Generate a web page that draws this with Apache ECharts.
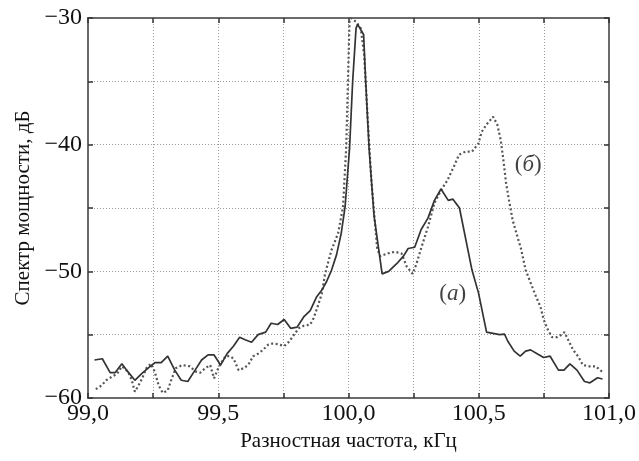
<!DOCTYPE html>
<html>
<head>
<meta charset="utf-8">
<script src="https://cdn.jsdelivr.net/npm/echarts@6/dist/echarts.min.js"></script>
<style>
html,body{margin:0;padding:0;background:#fff;}
#c{width:639px;height:461px;}
</style>
</head>
<body>
<div id="c"></div>
<script>
// Curve (a): solid line [frequency kHz, power dB]
const curveA = [
[99.025,-57.0],[99.055,-56.9],[99.085,-58.0],[99.104,-58.0],[99.13,-57.3],[99.152,-57.9],
[99.18,-58.6],[99.205,-58.1],[99.233,-57.6],[99.258,-57.2],[99.281,-57.2],[99.306,-56.7],
[99.333,-57.8],[99.358,-58.6],[99.383,-58.7],[99.411,-57.8],[99.436,-57.0],[99.461,-56.6],
[99.484,-56.6],[99.509,-57.4],[99.534,-56.5],[99.559,-55.9],[99.582,-55.2],[99.603,-55.4],
[99.628,-55.6],[99.653,-55.0],[99.682,-54.8],[99.703,-54.1],[99.728,-54.2],[99.753,-53.8],
[99.778,-54.5],[99.803,-54.4],[99.828,-53.6],[99.853,-53.1],[99.878,-52.0],[99.897,-51.5],
[99.916,-50.8],[99.935,-49.9],[99.954,-48.7],[99.972,-47.0],[99.987,-44.9],[100.004,-40.3],
[100.016,-35.0],[100.029,-30.8],[100.035,-30.5],[100.058,-31.3],[100.066,-35.0],[100.079,-40.3],
[100.098,-45.6],[100.129,-50.2],[100.154,-50.0],[100.185,-49.4],[100.211,-48.8],[100.229,-48.2],
[100.254,-48.1],[100.279,-46.7],[100.305,-45.8],[100.33,-44.4],[100.355,-43.5],[100.383,-44.4],
[100.401,-44.3],[100.426,-45.0],[100.474,-49.9],[100.499,-51.7],[100.53,-54.8],[100.555,-54.9],
[100.58,-55.0],[100.599,-54.95],[100.611,-55.5],[100.636,-56.3],[100.659,-56.7],[100.68,-56.3],
[100.699,-56.2],[100.724,-56.5],[100.749,-56.8],[100.774,-56.7],[100.806,-57.8],[100.827,-57.8],
[100.85,-57.3],[100.877,-57.8],[100.906,-58.7],[100.927,-58.8],[100.956,-58.4],[100.975,-58.5]
];
// Curve (б): dotted line
const curveB = [
[99.03,-59.3],[99.053,-59.0],[99.07,-58.6],[99.093,-58.3],[99.111,-58.1],[99.13,-57.5],
[99.153,-57.9],[99.168,-58.6],[99.18,-59.5],[99.193,-59.05],[99.208,-58.45],[99.224,-57.65],
[99.241,-57.3],[99.256,-57.9],[99.271,-59.0],[99.287,-59.6],[99.306,-59.4],[99.321,-58.5],
[99.337,-57.65],[99.362,-57.4],[99.391,-57.5],[99.412,-57.9],[99.431,-58.0],[99.45,-57.65],
[99.469,-57.4],[99.484,-58.45],[99.503,-57.5],[99.528,-56.7],[99.546,-56.7],[99.559,-56.9],
[99.578,-57.8],[99.597,-57.65],[99.615,-57.4],[99.634,-56.7],[99.653,-56.5],[99.672,-56.2],
[99.691,-55.8],[99.709,-55.7],[99.728,-55.75],[99.753,-55.9],[99.772,-55.55],[99.791,-55.0],
[99.809,-54.5],[99.828,-54.3],[99.853,-54.2],[99.866,-53.7],[99.878,-53.0],[99.897,-51.8],
[99.91,-50.2],[99.935,-48.3],[99.96,-47.0],[99.979,-44.9],[99.991,-40.3],[99.998,-35.0],
[100.004,-30.2],[100.01,-30.0],[100.029,-30.3],[100.047,-30.8],[100.06,-32.9],[100.073,-37.7],
[100.088,-42.9],[100.11,-48.2],[100.122,-48.8],[100.148,-48.6],[100.179,-48.45],[100.204,-48.6],
[100.223,-49.6],[100.246,-50.2],[100.261,-49.4],[100.28,-48.1],[100.305,-46.5],[100.33,-44.6],
[100.355,-43.6],[100.38,-42.8],[100.405,-41.7],[100.424,-40.8],[100.449,-40.55],[100.474,-40.55],
[100.499,-39.9],[100.511,-39.0],[100.53,-38.4],[100.555,-37.8],[100.571,-38.4],[100.584,-39.6],
[100.593,-40.95],[100.605,-43.05],[100.618,-44.6],[100.63,-45.95],[100.649,-47.3],[100.662,-48.2],
[100.68,-49.9],[100.699,-50.9],[100.718,-51.9],[100.737,-52.8],[100.749,-53.8],[100.765,-54.6],
[100.781,-55.2],[100.8,-55.2],[100.818,-55.0],[100.829,-54.8],[100.843,-55.4],[100.862,-56.2],
[100.881,-56.7],[100.9,-57.4],[100.925,-57.5],[100.95,-57.5],[100.965,-57.8],[100.98,-58.0]
];
// Curve annotations: [x, y, letter]
const annotations = [[100.4,-51.8,'а'],[100.69,-41.6,'б']];
const xTickLabels = [99.0, 99.5, 100.0, 100.5, 101.0];
const yTickLabels = [-60, -50, -40, -30];

const FONT = '"Liberation Serif","DejaVu Serif",serif';
const frameColor = '#6a6a6a';
const gridStyle = {show:true, lineStyle:{color:'#9a9a9a', width:1, type:[1,2]}};

function fmtX(v){
  for (const t of xTickLabels) if (Math.abs(v-t)<1e-6) return t.toFixed(1).replace('.',',');
  return '';
}
function fmtY(v){
  for (const t of yTickLabels) if (Math.abs(v-t)<1e-6) return (t<0?'\u2212':'')+Math.abs(t);
  return '';
}
const chart = echarts.init(document.getElementById('c'));
const xBase = {type:'value', min:99, max:101, interval:0.25};
const yBase = {type:'value', min:-60, max:-30, interval:5};
chart.setOption({
  animation:false,
  backgroundColor:'#fff',
  grid:{left:88, right:19, top:18, bottom:63, show:true, borderColor:frameColor, borderWidth:2},
  xAxis:[
    Object.assign({}, xBase, {
      position:'bottom',
      name:'Разностная частота, кГц', nameLocation:'middle', nameGap:33,
      nameTextStyle:{fontFamily:FONT, fontSize:21, color:'#111'},
      axisLine:{show:true, lineStyle:{color:frameColor, width:2}},
      axisTick:{show:true, inside:true, length:5, lineStyle:{color:'#333', width:1.5}},
      axisLabel:{formatter:fmtX, fontFamily:FONT, fontSize:24, color:'#111', margin:4, showMinLabel:true, showMaxLabel:true},
      splitLine:gridStyle
    }),
    Object.assign({}, xBase, {
      position:'top',
      axisLine:{show:true, lineStyle:{color:frameColor, width:2}},
      axisTick:{show:true, inside:true, length:5, lineStyle:{color:'#333', width:1.5}},
      axisLabel:{show:false}, splitLine:{show:false}
    })
  ],
  yAxis:[
    Object.assign({}, yBase, {
      position:'left',
      name:'Спектр мощности, дБ', nameLocation:'middle', nameGap:50, nameRotate:90,
      nameTextStyle:{fontFamily:FONT, fontSize:21, color:'#111'},
      axisLine:{show:true, lineStyle:{color:frameColor, width:2}},
      axisTick:{show:true, inside:true, length:5, lineStyle:{color:'#333', width:1.5}},
      axisLabel:{formatter:fmtY, fontFamily:FONT, fontSize:24, color:'#111', margin:6, showMinLabel:true, showMaxLabel:true},
      splitLine:gridStyle
    }),
    Object.assign({}, yBase, {
      position:'right',
      axisLine:{show:true, lineStyle:{color:frameColor, width:2}},
      axisTick:{show:true, inside:true, length:5, lineStyle:{color:'#333', width:1.5}},
      axisLabel:{show:false}, splitLine:{show:false}
    })
  ],
  series:[
    {type:'line', data:curveB, showSymbol:false, symbol:'none', z:3,
     lineStyle:{color:'#555', width:2.2, type:[2,2.5]}},
    {type:'line', data:curveA, showSymbol:false, symbol:'none', z:4,
     lineStyle:{color:'#333', width:1.7}},
    {type:'scatter', symbolSize:0, silent:true, z:5,
     data:annotations.map(a=>({value:[a[0],a[1]], name:a[2]})),
     label:{show:true, position:'inside',
       formatter:p=>'{p|(}{i|'+p.name+'}{p|)}',
       rich:{p:{fontFamily:FONT, fontSize:23, color:'#111'},
             i:{fontFamily:FONT, fontSize:23, fontStyle:'italic', color:'#111'}}}}
  ]
});
</script>
</body>
</html>
